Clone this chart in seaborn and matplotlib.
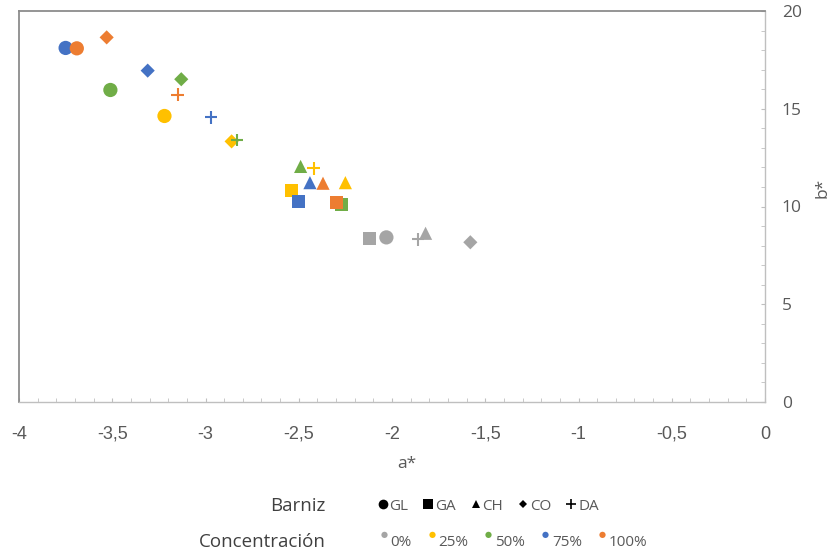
import numpy as np
import pandas as pd
import matplotlib
matplotlib.use('Agg')
import matplotlib.pyplot as plt
import seaborn as sns
from matplotlib import font_manager
from matplotlib.lines import Line2D
from matplotlib.markers import MarkerStyle
from matplotlib.transforms import Affine2D
from matplotlib.ticker import MultipleLocator, FuncFormatter

# data, varnish order GL, GA, CH, CO, DA
barniz = ['GL', 'GA', 'CH', 'CO', 'DA']
concentracion = ['0%', '25%', '50%', '75%', '100%']

a_0 = [-2.03, -2.12, -1.82, -1.58, -1.86]
b_0 = [8.42, 8.37, 8.63, 8.17, 8.32]
a_25 = [-3.22, -2.54, -2.25, -2.86, -2.42]
b_25 = [14.63, 10.84, 11.22, 13.33, 11.95]
a_50 = [-3.51, -2.27, -2.49, -3.13, -2.83]
b_50 = [15.96, 10.11, 12.05, 16.51, 13.40]
a_75 = [-3.75, -2.50, -2.44, -3.31, -2.97]
b_75 = [18.11, 10.25, 11.22, 16.95, 14.56]
a_100 = [-3.69, -2.30, -2.37, -3.53, -3.15]
b_100 = [18.09, 10.21, 11.19, 18.65, 15.72]

colores = ['#A5A5A5', '#FFC000', '#70AD47', '#4472C4', '#ED7D31']
marcadores = {'GL': 'o', 'GA': 's', 'CH': '^', 'CO': 'D', 'DA': '+'}
tamanos = {'GL': 105, 'GA': 88, 'CH': 90, 'CO': 52, 'DA': 80}

rows = []
for c, aa, bb in zip(concentracion, [a_0, a_25, a_50, a_75, a_100],
                     [b_0, b_25, b_50, b_75, b_100]):
    for v, x, y in zip(barniz, aa, bb):
        rows.append({'barniz': v, 'conc': c, 'a': x, 'b': y})
df = pd.DataFrame(rows)
pal = dict(zip(concentracion, colores))

sns.set_style('white')
plt.rcParams['font.family'] = ['Liberation Sans', 'DejaVu Sans']

# narrow font for the x tick labels if there is one
nombres = {f.name for f in font_manager.fontManager.ttflist}
fuente_x = 'Liberation Sans Narrow' if 'Liberation Sans Narrow' in nombres else 'Liberation Sans'

fig = plt.figure(figsize=(8.35, 5.56), dpi=100)
ax = fig.add_axes([19/835, 1-402/556, (765-19)/835, (402-11)/556])

for v in barniz:
    sub = df[df['barniz'] == v]
    if marcadores[v] == '+':
        sns.scatterplot(data=sub, x='a', y='b', hue='conc', hue_order=concentracion,
                        palette=pal, marker='+', s=tamanos[v], linewidth=1.5,
                        edgecolor=None, legend=False, ax=ax, zorder=3)
    else:
        sns.scatterplot(data=sub, x='a', y='b', hue='conc', hue_order=concentracion,
                        palette=pal, marker=marcadores[v], s=tamanos[v], linewidth=0,
                        edgecolor='none', legend=False, ax=ax, zorder=3)

ax.set_xlim(-4, 0)
ax.set_ylim(0, 20)
ax.yaxis.tick_right()
ax.yaxis.set_label_position('right')
ax.xaxis.set_major_locator(MultipleLocator(0.5))
ax.xaxis.set_minor_locator(MultipleLocator(0.1))
ax.yaxis.set_major_locator(MultipleLocator(5))
ax.yaxis.set_minor_locator(MultipleLocator(1))
ax.xaxis.set_major_formatter(FuncFormatter(lambda v, p: ('%g' % v).replace('.', ',')))

for s in ['top', 'left']:
    ax.spines[s].set_color('#8C8C8C')
    ax.spines[s].set_linewidth(1.3)
for s in ['bottom', 'right']:
    ax.spines[s].set_color('#BFBFBF')
    ax.spines[s].set_linewidth(1.0)

ax.tick_params(axis='x', which='both', direction='in', length=3, color='#BFBFBF',
               bottom=True, top=False, pad=17, labelsize=13, labelcolor='#595959')
ax.tick_params(axis='y', which='both', direction='in', length=3, color='#BFBFBF',
               right=True, left=False, pad=12, labelsize=12.5, labelcolor='#595959')
for lab in ax.get_xticklabels():
    lab.set_family(fuente_x)
for lab in ax.get_yticklabels():
    lab.set_family('Open Sans')

ax.set_xlabel('a*', fontsize=12.5, color='#595959', family='Open Sans')
ax.set_ylabel('b*', fontsize=12.5, color='#595959', family='Open Sans', rotation=90)
ax.xaxis.set_label_coords((407-19)/746, -(456-402)/391)
ax.yaxis.set_label_coords((814-19)/746, (402-188)/391)

# leyenda inferior
fig.text(326/835, 1-506/556, 'Barniz', ha='right', va='center', fontsize=13.5,
         color='#404040', family='Open Sans')
fig.text(326/835, 1-542/556, 'Concentración', ha='right', va='center', fontsize=13.5,
         color='#404040', family='Open Sans')

h1 = [Line2D([], [], linestyle='none', marker=marcadores[v], color='black',
             markersize={'GL': 7, 'GA': 7, 'CH': 6, 'CO': 4.5, 'DA': 7}[v],
             markeredgewidth=1.2 if v == 'DA' else 0)
      for v in barniz]
up = MarkerStyle('o', transform=Affine2D().translate(0, 0.9))
h2 = [Line2D([], [], linestyle='none', marker=up, color=c, markersize=4.5,
             markeredgewidth=0) for c in colores]

leg1 = fig.legend(h1, barniz, loc='center left', bbox_to_anchor=(378/835, 1-506/556),
                  ncol=5, frameon=False, handlelength=0.6, handletextpad=0.15,
                  columnspacing=1.0, borderpad=0, borderaxespad=0,
                  prop={'family': 'Open Sans', 'size': 11}, labelcolor='#595959')
leg2 = fig.legend(h2, concentracion, loc='center left', bbox_to_anchor=(379/835, 1-542/556),
                  ncol=5, frameon=False, handlelength=0.6, handletextpad=0.15,
                  columnspacing=1.0, borderpad=0, borderaxespad=0,
                  prop={'family': 'Open Sans', 'size': 11}, labelcolor='#595959')

fig.savefig('out.png', dpi=100)
